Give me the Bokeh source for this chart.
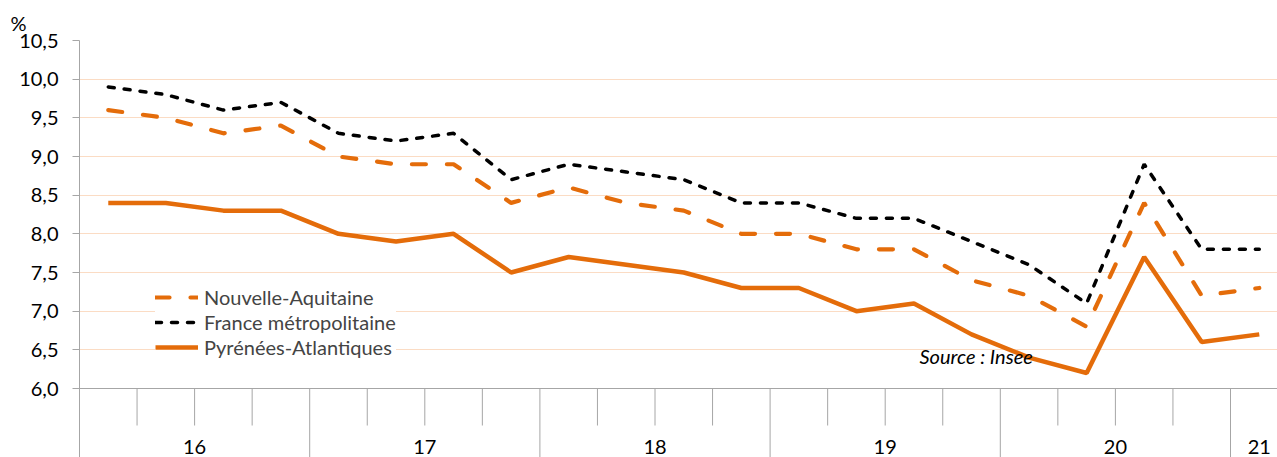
from bokeh.plotting import figure
from bokeh.models import (FixedTicker, Span, Label, Legend, LegendItem, Range1d,
                          CustomJSTickFormatter)
from bokeh.core.properties import value
from bokeh.embed import file_html
from bokeh.resources import INLINE

# ---------------- data ----------------
years = ["16", "17", "18", "19", "20", "21"]
quarters_per_year = [4, 4, 4, 4, 4, 1]
nouvelle_aquitaine = [9.6, 9.5, 9.3, 9.4, 9.0, 8.9, 8.9, 8.4, 8.6, 8.4, 8.3,
                      8.0, 8.0, 7.8, 7.8, 7.4, 7.2, 6.8, 8.4, 7.2, 7.3]
france_metro = [9.9, 9.8, 9.6, 9.7, 9.3, 9.2, 9.3, 8.7, 8.9, 8.8, 8.7,
                8.4, 8.4, 8.2, 8.2, 7.9, 7.6, 7.1, 8.9, 7.8, 7.8]
pyrenees_atl = [8.4, 8.4, 8.3, 8.3, 8.0, 7.9, 8.0, 7.5, 7.7, 7.6, 7.5,
                7.3, 7.3, 7.0, 7.1, 6.7, 6.4, 6.2, 7.7, 6.6, 6.7]
y_ticks = [6.0, 6.5, 7.0, 7.5, 8.0, 8.5, 9.0, 9.5, 10.0, 10.5]
unit_label = "%"
source_text = "Source : Insee"

# ---------------- style / geometry ----------------
FONT = "Lato"
FS = "20px"
ORANGE = "#E46C0A"
GRID = "#FBDCC4"
AXIS = "#A6A6A6"

W, H = 1277, 457
BL, BT = 79, 40
frame_h = H - BT
frame_w = W - BL
ppu = 348 / (y_ticks[-1] - y_ticks[0])        # pixels per y unit
ppq = 57.55                                    # pixels per quarter
y_top = y_ticks[-1]
y_bot = y_top - frame_h / ppu
x_start = -0.5
x_end = x_start + frame_w / ppq

n = len(france_metro)
xs = list(range(n))

p = figure(width=W, height=H, output_backend="svg", toolbar_location=None,
           x_range=Range1d(x_start, x_end), y_range=Range1d(y_bot, y_top),
           x_axis_type=None, min_border_left=BL, min_border_right=0,
           min_border_top=BT, min_border_bottom=0, title=unit_label)
p.outline_line_color = None
p.background_fill_color = "white"
p.border_fill_color = "white"

p.title.align = "left"
p.title.offset = -69
p.title.vertical_align = "bottom"
p.title.standoff = 11
p.title.text_font = FONT
p.title.text_font_size = FS
p.title.text_font_style = "normal"
p.title.text_color = "#000000"

# y axis
p.yaxis.ticker = FixedTicker(ticks=y_ticks)
p.yaxis.formatter = CustomJSTickFormatter(code="return tick.toFixed(1).replace('.', ',');")
p.yaxis.axis_line_color = AXIS
p.yaxis.major_tick_line_color = AXIS
p.yaxis.major_tick_out = 7
p.yaxis.major_tick_in = 0
p.yaxis.minor_tick_line_color = None
p.yaxis.major_label_standoff = 14
p.yaxis.major_label_text_font = FONT
p.yaxis.major_label_text_font_size = FS
p.yaxis.major_label_text_color = "#000000"

p.ygrid.ticker = FixedTicker(ticks=y_ticks[1:])
p.ygrid.grid_line_color = GRID
p.ygrid.grid_line_width = 1

# category axis drawn from the quarter/year structure
p.add_layout(Span(location=y_ticks[0], dimension="width", line_color=AXIS, line_width=1))
bounds = [0]
for q in quarters_per_year:
    bounds.append(bounds[-1] + q)
year_x = [b - 0.5 for b in bounds]
quarter_x = [k - 0.5 for k in range(1, n) if k not in bounds]
short_len = 37 / ppu
p.segment(x0=quarter_x, y0=[y_ticks[0]] * len(quarter_x), x1=quarter_x,
          y1=[y_ticks[0] - short_len] * len(quarter_x), line_color=AXIS, line_width=1)
p.segment(x0=year_x, y0=[y_ticks[0]] * len(year_x), x1=year_x,
          y1=[y_bot] * len(year_x), line_color=AXIS, line_width=1)
centers = [(bounds[i] + bounds[i + 1] - 1) / 2 for i in range(len(years))]
p.text(x=centers, y=[y_ticks[0] - 58 / ppu] * len(years), text=years,
       text_font=value(FONT), text_font_size=FS, text_align="center",
       text_baseline="middle", text_color="#000000")

# series
r_pa = p.line(xs, pyrenees_atl, line_color=ORANGE, line_width=4.5)
r_na = p.line(xs, nouvelle_aquitaine, line_color=ORANGE, line_width=4.2,
              line_dash="14 21", line_cap="round")
r_fm = p.line(xs, france_metro, line_color="#000000", line_width=3.5,
              line_dash="6 10", line_cap="round")

legend = Legend(items=[LegendItem(label="Nouvelle-Aquitaine", renderers=[r_na]),
                       LegendItem(label="France métropolitaine", renderers=[r_fm]),
                       LegendItem(label="Pyrénées-Atlantiques", renderers=[r_pa])],
                location=(76, 98), padding=10, margin=0, spacing=1,
                glyph_width=43, glyph_height=24, label_height=24, label_standoff=6,
                label_text_font=FONT, label_text_font_size=FS,
                border_line_color=None, background_fill_color="white",
                background_fill_alpha=1.0)
p.add_layout(legend)

p.add_layout(Label(x=840, y=90, x_units="screen", y_units="screen", text=source_text,
                   text_font=FONT, text_font_size=FS, text_font_style="italic",
                   text_color="#000000"))

open("out.html", "w").write(file_html(p, INLINE))
